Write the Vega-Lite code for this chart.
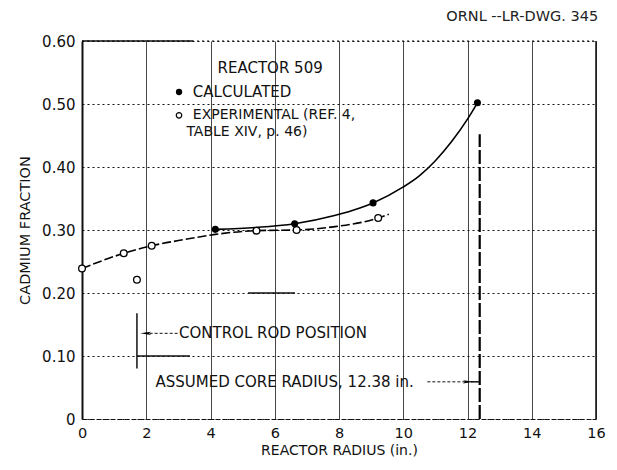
{
  "$schema": "https://vega.github.io/schema/vega-lite/v6.json",
  "width": 514,
  "height": 378,
  "autosize": {"type": "none"},
  "padding": {"left": 82, "top": 41, "right": 21, "bottom": 51},
  "background": "white",
  "title": {"text": "ORNL --LR-DWG. 345", "anchor": "end", "orient": "top", "offset": 10, "dx": -7, "font": "DejaVu Sans", "fontSize": 14.5, "fontWeight": "normal", "color": "#222"},
  "config": {
    "view": {"stroke": null},
    "font": "DejaVu Sans",
    "axis": {"labelFont": "DejaVu Sans", "titleFont": "DejaVu Sans", "labelColor": "#111", "titleColor": "#111", "titleFontWeight": "normal"}
  },
  "datasets": {
    "calc": [
      {"x": 4.15, "y": 0.301},
      {"x": 6.62, "y": 0.310},
      {"x": 9.06, "y": 0.343},
      {"x": 12.31, "y": 0.502}
    ],
    "calcCurve": [
      {"x": 4.15, "y": 0.301},
      {"x": 5.4, "y": 0.304},
      {"x": 6.62, "y": 0.310},
      {"x": 7.86, "y": 0.323},
      {"x": 8.65, "y": 0.335},
      {"x": 9.06, "y": 0.343},
      {"x": 9.99, "y": 0.368},
      {"x": 10.5, "y": 0.386},
      {"x": 11.0, "y": 0.410},
      {"x": 11.5, "y": 0.440},
      {"x": 12.0, "y": 0.476},
      {"x": 12.31, "y": 0.502}
    ],
    "exp": [
      {"x": 0.0, "y": 0.239},
      {"x": 1.30, "y": 0.263},
      {"x": 2.17, "y": 0.275},
      {"x": 1.71, "y": 0.221},
      {"x": 5.43, "y": 0.299},
      {"x": 6.68, "y": 0.300},
      {"x": 9.22, "y": 0.319}
    ],
    "expCurve": [
      {"x": 0.0, "y": 0.239},
      {"x": 1.30, "y": 0.263},
      {"x": 2.17, "y": 0.275},
      {"x": 3.2, "y": 0.285},
      {"x": 4.15, "y": 0.293},
      {"x": 5.43, "y": 0.299},
      {"x": 6.68, "y": 0.300},
      {"x": 7.82, "y": 0.305},
      {"x": 9.22, "y": 0.319},
      {"x": 9.55, "y": 0.325}
    ],
    "frame": [
      {"x": 0, "x2": 16, "y": 0.6, "y2": 0.6}
    ],
    "frameRight": [
      {"x": 16, "x2": 16, "y": 0, "y2": 0.6}
    ],
    "solidSegs": [
      {"x": 0, "x2": 3.45, "y": 0.6, "y2": 0.6},
      {"x": 5.17, "x2": 6.63, "y": 0.2, "y2": 0.2},
      {"x": 1.71, "x2": 3.36, "y": 0.1, "y2": 0.1},
      {"x": 1.71, "x2": 1.71, "y": 0.08, "y2": 0.168}
    ],
    "coreLine": [
      {"x": 12.38, "x2": 12.38, "y": 0, "y2": 0.452}
    ],
    "arrowLines": [
      {"x": 1.95, "x2": 2.98, "y": 0.136, "y2": 0.136, "dash": "d"},
      {"x": 10.75, "x2": 11.95, "y": 0.059, "y2": 0.059, "dash": "d"},
      {"x": 12.1, "x2": 12.38, "y": 0.059, "y2": 0.059, "dash": "s"}
    ],
    "headsLeft": [
      {"x": 1.98, "y": 0.136}
    ],
    "headsRight": [
      {"x": 12.03, "y": 0.059}
    ],
    "legendPts": [
      {"x": 3.02, "y": 0.519, "kind": "calc"},
      {"x": 3.02, "y": 0.482, "kind": "exp"}
    ],
    "labels": [
      {"x": 4.22, "y": 0.557, "label": "REACTOR 509", "fs": 15},
      {"x": 3.45, "y": 0.519, "label": "CALCULATED", "fs": 15},
      {"x": 3.45, "y": 0.482, "label": "EXPERIMENTAL (REF. 4,", "fs": 14},
      {"x": 3.25, "y": 0.456, "label": "TABLE XIV, p. 46)", "fs": 14},
      {"x": 3.02, "y": 0.136, "label": "CONTROL ROD POSITION", "fs": 15},
      {"x": 2.29, "y": 0.059, "label": "ASSUMED CORE RADIUS, 12.38 in.", "fs": 15}
    ]
  },
  "layer": [
    {
      "data": {"name": "frame"},
      "mark": {"type": "rule", "color": "#111", "strokeWidth": 1, "strokeDash": [2, 3]},
      "encoding": {
        "x": {"field": "x", "type": "quantitative",
          "scale": {"domain": [0, 16], "nice": false, "zero": false},
          "axis": {"title": "REACTOR RADIUS (in.)", "values": [0, 2, 4, 6, 8, 10, 12, 14, 16],
            "grid": true, "gridColor": "#333", "gridWidth": 1, "gridOpacity": 0.9,
            "domainColor": "#111", "domainDash": [5, 2], "domainWidth": 1.2,
            "labelFlush": false,
            "ticks": false, "labelPadding": 7, "labelFontSize": 14.5, "titleFontSize": 14, "titlePadding": 4, "titleFontWeight": "normal"}},
        "x2": {"field": "x2"},
        "y": {"field": "y", "type": "quantitative",
          "scale": {"domain": [0, 0.6], "nice": false, "zero": false},
          "axis": {"title": "CADMIUM FRACTION", "values": [0, 0.1, 0.2, 0.3, 0.4, 0.5, 0.6],
            "labelExpr": "datum.value == 0 ? '0' : format(datum.value, '.2f')",
            "grid": true, "gridColor": "#111", "gridDash": [2, 3], "gridWidth": 1,
            "domainColor": "#111", "domainWidth": 2, "labelFlush": false,
            "ticks": false, "labelPadding": 7, "labelFontSize": 15, "titleFontSize": 14.5, "titlePadding": 9, "titleFontWeight": "normal"}},
        "y2": {"field": "y2"}
      }
    },
    {
      "data": {"name": "frameRight"},
      "mark": {"type": "rule", "color": "#111", "strokeWidth": 1.5},
      "encoding": {
        "x": {"field": "x", "type": "quantitative"},
        "x2": {"field": "x2"},
        "y": {"field": "y", "type": "quantitative"},
        "y2": {"field": "y2"}
      }
    },
    {
      "data": {"name": "solidSegs"},
      "mark": {"type": "rule", "color": "#111", "strokeWidth": 1.5},
      "encoding": {
        "x": {"field": "x", "type": "quantitative"},
        "x2": {"field": "x2"},
        "y": {"field": "y", "type": "quantitative"},
        "y2": {"field": "y2"}
      }
    },
    {
      "data": {"name": "coreLine"},
      "mark": {"type": "rule", "color": "#000", "strokeWidth": 2.2, "strokeDash": [14, 3]},
      "encoding": {
        "x": {"field": "x", "type": "quantitative"},
        "x2": {"field": "x2"},
        "y": {"field": "y", "type": "quantitative"},
        "y2": {"field": "y2"}
      }
    },
    {
      "data": {"name": "expCurve"},
      "mark": {"type": "line", "interpolate": "monotone", "color": "#000", "strokeWidth": 1.6, "strokeDash": [9, 3]},
      "encoding": {
        "x": {"field": "x", "type": "quantitative"},
        "y": {"field": "y", "type": "quantitative"}
      }
    },
    {
      "data": {"name": "calcCurve"},
      "mark": {"type": "line", "interpolate": "monotone", "color": "#000", "strokeWidth": 1.6},
      "encoding": {
        "x": {"field": "x", "type": "quantitative"},
        "y": {"field": "y", "type": "quantitative"}
      }
    },
    {
      "data": {"name": "exp"},
      "mark": {"type": "point", "shape": "circle", "filled": false, "fill": "white", "fillOpacity": 1, "stroke": "#000", "strokeWidth": 1.3, "size": 45, "opacity": 1},
      "encoding": {
        "x": {"field": "x", "type": "quantitative"},
        "y": {"field": "y", "type": "quantitative"}
      }
    },
    {
      "data": {"name": "calc"},
      "mark": {"type": "point", "shape": "circle", "filled": true, "color": "#000", "size": 50, "opacity": 1},
      "encoding": {
        "x": {"field": "x", "type": "quantitative"},
        "y": {"field": "y", "type": "quantitative"}
      }
    },
    {
      "data": {"name": "legendPts"},
      "transform": [{"filter": "datum.kind == 'calc'"}],
      "mark": {"type": "point", "shape": "circle", "filled": true, "color": "#000", "size": 40, "opacity": 1},
      "encoding": {
        "x": {"field": "x", "type": "quantitative"},
        "y": {"field": "y", "type": "quantitative"}
      }
    },
    {
      "data": {"name": "legendPts"},
      "transform": [{"filter": "datum.kind == 'exp'"}],
      "mark": {"type": "point", "shape": "circle", "filled": false, "fill": "white", "fillOpacity": 1, "stroke": "#000", "strokeWidth": 1.2, "size": 30, "opacity": 1},
      "encoding": {
        "x": {"field": "x", "type": "quantitative"},
        "y": {"field": "y", "type": "quantitative"}
      }
    },
    {
      "data": {"name": "arrowLines"},
      "transform": [{"filter": "datum.dash == 'd'"}],
      "mark": {"type": "rule", "color": "#111", "strokeWidth": 1, "strokeDash": [3, 2]},
      "encoding": {
        "x": {"field": "x", "type": "quantitative"},
        "x2": {"field": "x2"},
        "y": {"field": "y", "type": "quantitative"},
        "y2": {"field": "y2"}
      }
    },
    {
      "data": {"name": "arrowLines"},
      "transform": [{"filter": "datum.dash == 's'"}],
      "mark": {"type": "rule", "color": "#111", "strokeWidth": 1.5},
      "encoding": {
        "x": {"field": "x", "type": "quantitative"},
        "x2": {"field": "x2"},
        "y": {"field": "y", "type": "quantitative"},
        "y2": {"field": "y2"}
      }
    },
    {
      "data": {"name": "headsLeft"},
      "mark": {"type": "point", "shape": "M-1,0L1,-0.3L0.6,0L1,0.3Z", "filled": true, "color": "#000", "size": 120, "opacity": 1},
      "encoding": {
        "x": {"field": "x", "type": "quantitative"},
        "y": {"field": "y", "type": "quantitative"}
      }
    },
    {
      "data": {"name": "headsRight"},
      "mark": {"type": "point", "shape": "M1,0L-1,-0.3L-0.6,0L-1,0.3Z", "filled": true, "color": "#000", "size": 120, "opacity": 1},
      "encoding": {
        "x": {"field": "x", "type": "quantitative"},
        "y": {"field": "y", "type": "quantitative"}
      }
    },
    {
      "data": {"name": "labels"},
      "mark": {"type": "text", "align": "left", "baseline": "middle", "font": "DejaVu Sans", "color": "#111"},
      "encoding": {
        "x": {"field": "x", "type": "quantitative"},
        "y": {"field": "y", "type": "quantitative"},
        "text": {"field": "label"},
        "size": {"field": "fs", "type": "quantitative", "scale": null}
      }
    }
  ]
}
